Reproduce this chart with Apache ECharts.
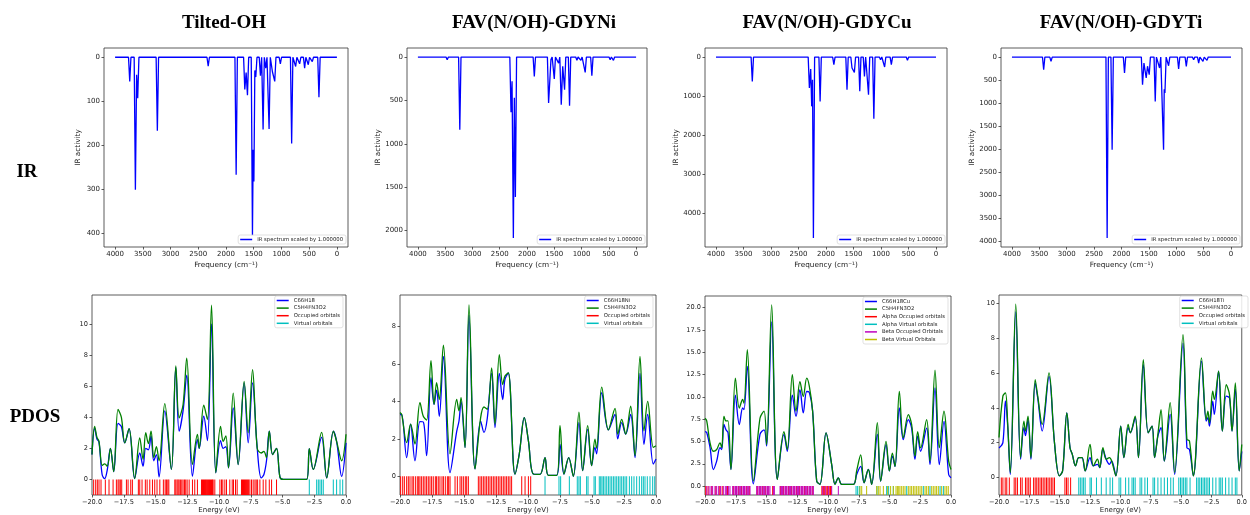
<!DOCTYPE html>
<html>
<head>
<meta charset="utf-8">
<script src="https://cdn.jsdelivr.net/npm/echarts@6.0.0/dist/echarts.min.js"></script>
<style>
  html, body { margin: 0; padding: 0; background: #fff; }
  #chart { width: 1250px; height: 515px; }
</style>
</head>
<body>
<div id="chart"></div>
<script>
// ---- IR spectra: peak positions (cm-1) and depths ----
const irFreqTicks = [0, 500, 1000, 1500, 2000, 2500, 3000, 3500, 4000]

const irTiltedFreq = [3736, 3634, 3612, 3592, 3238, 2321, 1817, 1661, 1637, 1613, 1523, 1510, 1497, 1480, 1463, 1379, 1331, 1283, 1223, 1163, 1121, 1020, 816, 744, 672, 582, 516, 444, 324, 204, 114]
const irTiltedVal = [55, 301, 40, 93, 167, 20, 267, 73, 35, 86, 405, 210, 282, 30, 45, 42, 164, 25, 163, 33, 55, 15, 196, 21, 15, 25, 17, 10, 91, 4, 2]
const irTiltedTicks = [0, 100, 200, 300, 400]

const irNiFreq = [3573, 3463, 3232, 2293, 2274, 2250, 2232, 2213, 1866, 1604, 1561, 1500, 1421, 1372, 1345, 1311, 1220, 1085, 1012, 933, 811, 720, 567, 475, 415, 80]
const irNiVal = [23, 31, 837, 637, 280, 2085, 470, 1612, 223, 530, 30, 253, 70, 549, 107, 376, 560, 38, 38, 177, 215, 23, 23, 31, 38, 12]
const irNiTicks = [0, 500, 1000, 1500, 2000]

const irCuFreq = [3591, 3481, 3340, 3237, 2302, 2278, 2260, 2245, 2229, 2107, 1857, 1618, 1527, 1484, 1386, 1301, 1227, 1130, 1008, 934, 812, 641, 519, 366]
const irCuVal = [26, 34, 624, 26, 795, 308, 1265, 580, 4641, 1137, 197, 838, 282, 393, 880, 496, 966, 1581, 68, 256, 197, 51, 85, 34]
const irCuTicks = [0, 1000, 2000, 3000, 4000]

const irTiFreq = [3421, 3287, 2262, 2171, 1945, 1616, 1590, 1549, 1525, 1494, 1384, 1305, 1232, 1220, 1207, 1140, 957, 817, 683, 591, 512, 439, 317]
const irTiVal = [275, 94, 3935, 2014, 348, 601, 130, 456, 200, 384, 964, 239, 2014, 700, 783, 188, 261, 203, 58, 130, 94, 72, 29]
const irTiTicks = [0, 500, 1000, 1500, 2000, 2500, 3000, 3500, 4000]

// ---- PDOS: curve turning points (eV, states) and orbital energies ----
const energyTicks = [-20, -17.5, -15, -12.5, -10, -7.5, -5, -2.5, 0]

const dosTiltedE = [-20.0, -19.79, -19.61, -19.45, -19.2, -19.0, -18.8, -18.55, -18.29, -17.95, -17.69, -17.42, -17.08, -16.64, -16.24, -15.98, -15.77, -15.56, -15.35, -15.14, -14.93, -14.72, -14.27, -13.75, -13.40, -13.14, -12.83, -12.54, -12.09, -11.70, -11.56, -11.20, -10.91, -10.59, -10.25, -9.88, -9.67, -9.46, -9.25, -8.88, -8.49, -8.02, -7.70, -7.36, -6.99, -6.68, -6.47, -6.26, -6.04, -5.78, -5.47, -5.20, -4.94, -3.10, -2.89, -2.58, -1.92, -1.52, -0.99, -0.74, -0.34, 0.0]
const dosTiltedFav = [1.6, 3.4, 2.7, 2.45, 0.9, 1.0, 0.85, 2.0, 0.5, 4.5, 4.0, 2.35, 3.27, 0.06, 2.67, 1.28, 3.0, 2.3, 3.1, 1.4, 2.1, 1.2, 4.87, 0.64, 7.3, 3.95, 4.8, 7.8, 0.96, 2.9, 2.0, 4.77, 3.85, 11.2, 0.43, 3.4, 2.45, 2.8, 0.75, 5.55, 0.96, 6.3, 3.0, 7.05, 2.0, 1.7, 1.8, 1.4, 3.1, 1.6, 2.0, 0.15, 0, 0, 1.97, 0.64, 3.03, 0.1, 3.1, 2.45, 1.2, 2.9]
const dosTiltedGdy = [1.6, 3.3, 2.6, 2.4, 0.3, 0.05, 0.6, 2.0, 0.5, 3.6, 3.4, 2.35, 3.27, 0.06, 1.7, 0.85, 2.0, 1.9, 2.8, 1.2, 1.6, 0.15, 4.4, 0.64, 7.2, 3.1, 4.4, 6.7, 0.2, 2.56, 2.0, 4.06, 2.5, 10.0, 0.43, 2.5, 2.0, 2.1, 0.75, 4.6, 0.96, 6.2, 2.35, 6.2, 2.0, 0.1, 0.3, 1.2, 3.1, 1.6, 2.0, 0.15, 0, 0, 1.97, 0.64, 2.7, 0.1, 3.1, 2.45, 0.2, 2.35]
const occTilted = [-19.87, -19.71, -19.58, -19.45, -19.29, -18.95, -18.66, -18.34, -18.08, -17.95, -17.87, -17.77, -17.66, -17.29, -17.16, -16.95, -16.82, -16.35, -16.24, -16.06, -15.80, -15.66, -15.45, -15.24, -15.06, -14.88, -14.66, -14.38, -14.24, -14.14, -14.03, -13.95, -13.48, -13.40, -13.30, -13.22, -13.14, -13.04, -12.93, -12.83, -12.72, -12.62, -12.51, -12.35, -12.09, -11.91, -11.70, -11.38, -11.30, -11.22, -11.14, -11.06, -10.99, -10.91, -10.83, -10.75, -10.67, -10.59, -10.51, -10.46, -10.33, -9.93, -9.80, -9.70, -9.54, -9.41, -9.15, -8.96, -8.86, -8.70, -8.57, -8.23, -8.15, -8.07, -7.99, -7.91, -7.83, -7.75, -7.67, -7.57, -7.44, -7.31, -7.17, -7.07, -6.96, -6.78, -6.52, -6.31, -6.04, -5.86, -5.47]
const virtTilted = [-2.89, -2.31, -2.18, -2.05, -1.92, -1.79, -1.00, -0.74, -0.47, -0.26]
const dosTiltedTicks = [0, 2, 4, 6, 8, 10]

const dosNiE = [-20, -19.87, -19.48, -19.17, -18.83, -18.44, -18.18, -17.92, -17.58, -17.34, -17.14, -16.93, -16.61, -16.09, -15.57, -15.39, -15.23, -14.92, -14.61, -14.14, -13.70, -13.44, -13.18, -12.84, -12.58, -12.24, -11.98, -11.80, -11.54, -11.02, -10.68, -10.29, -9.97, -9.58, -9.06, -8.67, -8.41, -7.76, -7.50, -7.19, -6.82, -6.46, -6.02, -5.73, -5.34, -5.03, -4.77, -4.64, -4.24, -3.72, -3.20, -2.99, -2.68, -2.37, -1.98, -1.64, -1.25, -0.94, -0.65, -0.21, 0]
const dosNiFav = [3.4, 3.3, 1.8, 2.78, 1.72, 3.93, 3.2, 3.0, 6.18, 3.84, 5.0, 4.1, 7.0, 1.2, 4.1, 3.5, 4.2, 1.54, 9.15, 0.39, 3.13, 3.7, 3.58, 5.79, 2.78, 6.5, 4.9, 5.35, 5.52, 0.12, 1.2, 3.13, 1.9, 0.12, 0.1, 1.0, 0.05, 0.05, 2.7, 0.12, 1.0, 0, 3.43, 0.3, 2.7, 0.57, 1.98, 1.5, 4.76, 2.48, 3.63, 2.25, 3.04, 2.25, 3.75, 1.1, 6.4, 2.42, 4.0, 1.54, 1.63]
const dosNiGdy = [3.3, 3.3, 1.0, 2.78, 0.83, 2.92, 2.9, 1.1, 5.26, 3.84, 4.6, 3.2, 6.4, 0.2, 2.4, 2.95, 4.0, 1.54, 8.6, 0.39, 2.95, 2.34, 3.1, 5.5, 2.6, 5.5, 4.1, 5.17, 5.52, 0.12, 1.2, 3.13, 1.9, 0.12, 0.1, 1.0, 0.05, 0.05, 1.7, 0.12, 1.0, 0, 2.87, 0.3, 2.5, 0.57, 1.54, 1.2, 4.46, 2.48, 3.3, 2.0, 2.87, 2.25, 3.3, 1.0, 5.5, 1.7, 3.3, 0.65, 0.92]
const occNi = [-19.95, -19.79, -19.66, -19.48, -19.35, -19.22, -19.06, -18.96, -18.80, -18.65, -18.54, -18.44, -18.31, -18.18, -18.05, -17.92, -17.79, -17.66, -17.53, -17.40, -17.24, -17.14, -17.01, -16.88, -16.72, -16.61, -16.46, -16.30, -16.20, -16.09, -15.70, -15.52, -15.31, -15.18, -15.05, -14.90, -14.79, -14.66, -13.88, -13.75, -13.62, -13.49, -13.36, -13.23, -13.10, -12.97, -12.84, -12.71, -12.58, -12.45, -12.32, -12.19, -12.06, -11.93, -11.80, -11.67, -11.54, -11.41, -11.28, -10.49, -10.23, -9.97, -9.79]
const virtNi = [-8.67, -7.58, -7.45, -6.77, -6.15, -6.02, -5.91, -5.42, -5.31, -4.84, -4.74, -4.43, -4.32, -4.22, -4.11, -3.98, -3.85, -3.72, -3.59, -3.46, -3.33, -3.20, -3.07, -2.94, -2.81, -2.68, -2.55, -2.42, -2.29, -2.08, -1.90, -1.72, -1.51, -1.30, -1.12, -0.99, -0.86, -0.68, -0.47, -0.26, -0.10]
const dosNiTicks = [0, 2, 4, 6, 8]

const dosCuE = [-20, -19.86, -19.59, -19.32, -19.05, -18.78, -18.64, -18.46, -18.29, -18.13, -17.89, -17.53, -17.21, -16.94, -16.83, -16.56, -16.07, -15.53, -15.20, -14.99, -14.58, -14.12, -13.58, -13.31, -12.90, -12.60, -12.28, -12.01, -11.73, -11.52, -11.25, -10.92, -10.65, -10.16, -9.70, -9.43, -9.16, -8.89, -7.94, -7.67, -7.34, -7.07, -6.72, -6.45, -5.99, -5.72, -5.28, -5.01, -4.77, -4.55, -4.20, -3.88, -3.47, -3.20, -2.93, -2.71, -2.47, -1.98, -1.71, -1.30, -0.95, -0.57, -0.19, 0]
const dosCuFav = [7.6, 7.3, 4.85, 3.9, 4.1, 4.85, 4.3, 7.8, 7.3, 7.3, 1.86, 12.1, 8.75, 9.7, 9.3, 15.3, 0.56, 7.6, 8.4, 4.65, 20.3, 0.74, 6.1, 4.1, 12.5, 8.4, 11.7, 10.05, 12.1, 11.2, 8.4, 0.56, 0.2, 5.96, 2.4, 0.2, 0.93, 0.2, 0.2, 1.7, 3.5, 0.37, 1.86, 0.2, 7.1, 0.56, 5.0, 1.7, 3.7, 2.2, 10.6, 5.4, 8.0, 6.9, 3.35, 6.1, 4.3, 7.45, 2.8, 13.0, 4.3, 8.4, 2.8, 1.86]
const dosCuGdy = [6.1, 6.0, 4.3, 1.86, 2.8, 4.3, 4.1, 6.9, 6.3, 6.0, 1.86, 10.2, 6.9, 8.75, 8.57, 13.4, 0.26, 5.8, 6.3, 4.5, 18.4, 0.74, 5.8, 3.9, 10.2, 7.8, 10.8, 8.2, 10.6, 10.5, 8.4, 0.56, 0.2, 5.96, 2.4, 0.2, 0.93, 0.2, 0.2, 1.3, 2.2, 0.37, 1.86, 0.2, 5.8, 0.56, 4.65, 1.7, 3.35, 2.2, 8.75, 5.2, 7.45, 6.5, 3.0, 5.6, 3.9, 6.5, 2.4, 11.0, 2.4, 7.26, 1.3, 0.93]
const alphaOccCu = [-19.94, -19.75, -19.45, -19.12, -18.80, -18.60, -18.17, -17.70, -17.47, -17.26, -17.04, -16.83, -16.61, -16.40, -15.75, -15.52, -15.31, -15.10, -14.88, -14.50, -13.85, -13.63, -13.42, -13.20, -12.98, -12.76, -12.55, -12.33, -12.12, -11.90, -11.68, -11.46, -11.24, -10.50, -10.38, -10.30, -10.15, -10.05, -9.90, -9.80, -9.75]
const alphaVirtCu = [-7.72, -7.59, -7.45, -6.02, -5.23, -5.07, -4.69, -3.60, -2.25, -1.71, -0.89, -0.62]
const betaOccCu = [-19.86, -19.67, -19.51, -19.38, -19.19, -19.05, -18.89, -18.73, -18.51, -18.35, -18.24, -18.10, -17.97, -17.75, -17.64, -17.53, -17.43, -17.32, -17.21, -17.10, -16.99, -16.88, -16.78, -16.67, -16.56, -16.45, -16.34, -15.80, -15.69, -15.58, -15.47, -15.37, -15.26, -15.15, -15.04, -14.93, -14.82, -14.72, -14.44, -14.36, -13.90, -13.79, -13.69, -13.58, -13.47, -13.36, -13.25, -13.14, -13.04, -12.93, -12.82, -12.71, -12.60, -12.49, -12.39, -12.28, -12.17, -12.06, -11.95, -11.84, -11.73, -11.63, -11.52, -11.41, -11.30, -11.19, -10.43, -10.22, -9.97, -9.70, -9.16]
const betaVirtCu = [-7.40, -7.26, -6.86, -6.04, -5.91, -5.77, -5.50, -5.15, -4.91, -4.69, -4.47, -4.36, -4.25, -4.15, -4.01, -3.88, -3.74, -3.47, -3.33, -3.20, -3.06, -2.93, -2.79, -2.66, -2.52, -2.38, -2.11, -1.98, -1.84, -1.57, -1.44, -1.30, -1.17, -1.03, -0.76, -0.49, -0.35, -0.22]
const dosCuTicks = [0, 2.5, 5, 7.5, 10, 12.5, 15, 17.5, 20]

const dosTiE = [-20, -19.68, -19.47, -19.28, -19.07, -18.62, -18.22, -17.95, -17.82, -17.61, -17.37, -17.02, -16.81, -16.44, -15.88, -15.43, -15.03, -14.76, -14.41, -14.15, -13.96, -13.70, -13.43, -13.16, -12.90, -12.50, -12.23, -11.89, -11.70, -11.44, -11.17, -10.90, -10.72, -10.37, -9.97, -9.71, -9.36, -9.18, -8.78, -8.51, -8.11, -7.71, -7.39, -7.18, -6.91, -6.65, -6.38, -5.90, -5.53, -4.84, -4.52, -4.31, -3.99, -3.32, -2.93, -2.79, -2.66, -2.39, -2.26, -1.91, -1.60, -1.28, -1.01, -0.80, -0.53, -0.21, 0]
const dosTiFav = [2.3, 4.67, 4.86, 3.05, 0.29, 9.94, 1.14, 3.24, 2.67, 3.52, 1.14, 5.62, 4.67, 3.05, 6.0, 2.0, 0.1, 0.38, 3.71, 1.71, 1.33, 0.67, 1.14, 1.14, 0.38, 1.9, 0.67, 1.05, 0.57, 1.71, 1.05, 1.14, 0.95, 0.1, 2.95, 1.14, 3.05, 2.57, 3.52, 1.14, 6.76, 2.57, 2.95, 1.14, 2.48, 3.9, 0.95, 4.29, 0.29, 8.19, 2.19, 2.1, 0.1, 6.86, 3.33, 3.81, 3.14, 4.95, 4.48, 6.1, 2.67, 5.33, 4.76, 2.67, 5.43, 0.38, 1.9]
const dosTiGdy = [1.7, 2.0, 4.4, 2.9, 0.19, 9.5, 1.05, 2.86, 2.4, 3.33, 1.05, 5.43, 4.57, 2.67, 5.8, 2.0, 0.1, 0.38, 3.71, 1.71, 1.33, 0.67, 1.14, 1.14, 0.38, 1.14, 0.67, 0.76, 0.57, 1.62, 1.05, 0.76, 0.95, 0.1, 2.95, 1.14, 2.86, 2.57, 3.43, 1.14, 6.48, 2.57, 2.95, 1.14, 2.38, 2.86, 0.95, 3.62, 0.19, 7.71, 1.71, 1.62, 0.1, 6.67, 3.24, 3.43, 2.95, 4.38, 3.62, 6.1, 2.67, 4.67, 4.57, 2.67, 5.05, 0.38, 1.5]
const occTi = [-19.81, -19.68, -19.49, -19.36, -19.15, -18.75, -18.62, -18.48, -18.22, -18.09, -17.82, -17.69, -17.55, -17.42, -17.15, -17.02, -16.89, -16.76, -16.62, -16.49, -16.36, -16.22, -16.09, -15.96, -15.82, -15.69, -15.56, -15.43, -14.57, -14.44, -14.31, -14.10]
const virtTi = [-13.43, -13.30, -13.16, -13.03, -12.90, -12.50, -12.39, -11.97, -11.57, -11.17, -10.85, -10.64, -10.11, -9.97, -9.57, -9.31, -9.04, -8.91, -8.78, -8.38, -8.24, -7.98, -7.77, -7.31, -7.18, -6.91, -6.65, -6.38, -6.12, -5.85, -5.64, -5.19, -5.05, -4.92, -4.79, -4.65, -4.52, -4.26, -3.72, -3.59, -3.46, -3.32, -3.19, -3.06, -2.93, -2.79, -2.66, -2.39, -2.13, -1.86, -1.73, -1.60, -1.33, -1.06, -0.80, -0.53, -0.40]
const dosTiTicks = [0, 2, 4, 6, 8, 10]

// ---- layout / style ----
const FONT = 'DejaVu Sans'
const IR_NAME = 'IR spectrum scaled by 1.000000'
const FAV_NAME = 'C5H4FN3O2'
const PEAK_HALF = 22 // half width of a drawn IR band, cm-1
const STICK_BOTTOM = -1

const colors = {
  blue: '#0000ff',
  green: '#008000',
  red: '#ff0000',
  cyan: '#00bfbf',
  magenta: '#bf00bf',
  olive: '#bfbf00'
}

const chart = echarts.init(document.getElementById('chart'), null, { renderer: 'canvas' })

// connect close bands directly, drop to the baseline between separated ones
function irLine (freq, val) {
  const pts = [[4000, 0]]
  let prev = null
  freq.forEach((f, i) => {
    if (prev === null || prev - f > 2 * PEAK_HALF) {
      if (prev !== null) pts.push([prev - PEAK_HALF, 0])
      pts.push([f + PEAK_HALF, 0])
    }
    pts.push([f, val[i]])
    prev = f
  })
  pts.push([prev - PEAK_HALF, 0], [0, 0])
  return pts
}

const tickStyle = { length: 2.5, lineStyle: { color: '#333', width: 0.8 } }
const labelText = (size) => ({ fontSize: size, color: '#222', fontFamily: FONT })
const minus = (v, digits) => (v < 0 ? '\u2212' : '') + Math.abs(v).toFixed(digits)
const hiddenLine = { show: false, onZero: false }

const legendBase = {
  orient: 'vertical',
  selectedMode: false,
  icon: 'rect',
  itemWidth: 12,
  itemHeight: 1.5,
  itemGap: 1.6,
  padding: [1.5, 3, 1.5, 2],
  borderColor: '#d4d4d4',
  borderWidth: 0.7,
  borderRadius: 2,
  backgroundColor: 'rgba(255,255,255,0.85)',
  textStyle: { fontSize: 5.3, lineHeight: 6, color: '#222', fontFamily: FONT }
}

const grids = []
const xAxes = []
const yAxes = []
const series = []
const legends = []

const irPanels = [
  { freq: irTiltedFreq, val: irTiltedVal, ticks: irTiltedTicks, left: 104, width: 244, yMin: -21, yMax: 431 },
  { freq: irNiFreq, val: irNiVal, ticks: irNiTicks, left: 407, width: 240, yMin: -104, yMax: 2189 },
  { freq: irCuFreq, val: irCuVal, ticks: irCuTicks, left: 705, width: 242, yMin: -232, yMax: 4873 },
  { freq: irTiFreq, val: irTiVal, ticks: irTiTicks, left: 1001, width: 241, yMin: -197, yMax: 4132 }
]

irPanels.forEach((p) => {
  const idx = grids.length
  grids.push({ left: p.left, width: p.width, top: 48, height: 199, show: true, borderColor: '#333', borderWidth: 0.8 })
  xAxes.push({
    type: 'value', gridIndex: idx, inverse: true, min: -200, max: 4200,
    name: 'Frequency (cm\u207b\u00b9)', nameLocation: 'middle', nameGap: 15,
    nameTextStyle: labelText(7.3),
    axisLine: hiddenLine, splitLine: { show: false },
    axisTick: Object.assign({ customValues: irFreqTicks }, tickStyle),
    axisLabel: Object.assign({ customValues: irFreqTicks, margin: 3.5, formatter: (v) => String(v) }, labelText(7))
  })
  yAxes.push({
    type: 'value', gridIndex: idx, inverse: true, min: p.yMin, max: p.yMax,
    name: 'IR activity', nameLocation: 'middle', nameGap: 22,
    nameTextStyle: labelText(7.3),
    axisLine: hiddenLine, splitLine: { show: false },
    axisTick: Object.assign({ customValues: p.ticks }, tickStyle),
    axisLabel: Object.assign({ customValues: p.ticks, margin: 4, formatter: (v) => String(v) }, labelText(7))
  })
  series.push({
    name: IR_NAME, type: 'line', xAxisIndex: idx, yAxisIndex: idx,
    data: irLine(p.freq, p.val), showSymbol: false, symbol: 'none',
    lineStyle: { color: colors.blue, width: 1.3 }, itemStyle: { color: colors.blue }
  })
  legends.push(Object.assign({}, legendBase, {
    data: [IR_NAME], right: 1250 - (p.left + p.width) + 2, top: 235
  }))
})

const pdosPanels = [
  {
    left: 92, width: 254, top: 295, height: 201, yMax: 11.85, ticks: dosTiltedTicks, digits: 0,
    lines: [['C66H18', dosTiltedE, dosTiltedGdy, colors.blue], [FAV_NAME, dosTiltedE, dosTiltedFav, colors.green]],
    sticks: [['Occupied orbitals', occTilted, colors.red], ['Virtual orbitals', virtTilted, colors.cyan]]
  },
  {
    left: 400, width: 256, top: 295, height: 201, yMax: 9.68, ticks: dosNiTicks, digits: 0,
    lines: [['C66H18Ni', dosNiE, dosNiGdy, colors.blue], [FAV_NAME, dosNiE, dosNiFav, colors.green]],
    sticks: [['Occupied orbitals', occNi, colors.red], ['Virtual orbitals', virtNi, colors.cyan]]
  },
  {
    left: 705, width: 246, top: 296, height: 200, yMax: 21.3, ticks: dosCuTicks, digits: 1,
    lines: [['C66H18Cu', dosCuE, dosCuGdy, colors.blue], [FAV_NAME, dosCuE, dosCuFav, colors.green]],
    sticks: [
      ['Alpha Occupied orbitals', alphaOccCu, colors.red],
      ['Alpha Virtual orbitals', alphaVirtCu, colors.cyan],
      ['Beta Occupied Orbitals', betaOccCu, colors.magenta],
      ['Beta Virtual Orbitals', betaVirtCu, colors.olive]
    ]
  },
  {
    left: 999, width: 252, top: 295, height: 201, yMax: 10.47, ticks: dosTiTicks, digits: 0,
    lines: [['C66H18Ti', dosTiE, dosTiGdy, colors.blue], [FAV_NAME, dosTiE, dosTiFav, colors.green]],
    sticks: [['Occupied orbitals', occTi, colors.red], ['Virtual orbitals', virtTi, colors.cyan]]
  }
]

pdosPanels.forEach((p) => {
  const idx = grids.length
  grids.push({ left: p.left, width: p.width, top: p.top, height: p.height, show: true, borderColor: '#333', borderWidth: 0.8 })
  xAxes.push({
    type: 'value', gridIndex: idx, min: -20, max: 0, interval: 2.5,
    name: 'Energy (eV)', nameLocation: 'middle', nameGap: 12,
    nameTextStyle: labelText(7),
    axisLine: hiddenLine, splitLine: { show: false },
    axisTick: Object.assign({ customValues: energyTicks }, tickStyle),
    axisLabel: Object.assign({ customValues: energyTicks, margin: 3.5, formatter: (v) => minus(v, 1) }, labelText(6.6))
  })
  yAxes.push({
    type: 'value', gridIndex: idx, min: STICK_BOTTOM, max: p.yMax,
    axisLine: hiddenLine, splitLine: { show: false },
    axisTick: Object.assign({ customValues: p.ticks }, tickStyle),
    axisLabel: Object.assign({ customValues: p.ticks, margin: 4, formatter: (v) => minus(v, p.digits) }, labelText(6.6))
  })
  p.lines.forEach(([name, e, v, color]) => {
    series.push({
      name, type: 'line', xAxisIndex: idx, yAxisIndex: idx,
      data: e.map((x, i) => [x, v[i]]),
      smooth: 0.35, showSymbol: false, symbol: 'none',
      lineStyle: { color, width: 1.3 }, itemStyle: { color }
    })
  })
  p.sticks.forEach(([name, e, color]) => {
    series.push({
      name, type: 'bar', xAxisIndex: idx, yAxisIndex: idx,
      data: e.map((x) => [x, STICK_BOTTOM]),
      barWidth: 1, barGap: '-100%', itemStyle: { color }
    })
  })
  const names = p.lines.map((l) => l[0]).concat(p.sticks.map((s) => s[0]))
  legends.push(Object.assign({}, legendBase, {
    data: names, right: 1250 - (p.left + p.width) + 3, top: p.top + 1
  }))
})

const headings = [
  ['Tilted-OH', 224, 23],
  ['FAV(N/OH)-GDYNi', 534, 23],
  ['FAV(N/OH)-GDYCu', 827, 23],
  ['FAV(N/OH)-GDYTi', 1121, 23],
  ['IR', 27, 172],
  ['PDOS', 35, 417]
]

const option = {
  animation: false,
  backgroundColor: '#fff',
  textStyle: { fontFamily: FONT },
  grid: grids,
  xAxis: xAxes,
  yAxis: yAxes,
  legend: legends,
  series: series,
  graphic: headings.map(([text, x, y]) => ({
    type: 'text', x, y,
    style: { text, fill: '#000', font: 'bold 19px "Liberation Serif"', align: 'center', verticalAlign: 'middle' }
  }))
}

chart.setOption(option)
</script>
</body>
</html>
